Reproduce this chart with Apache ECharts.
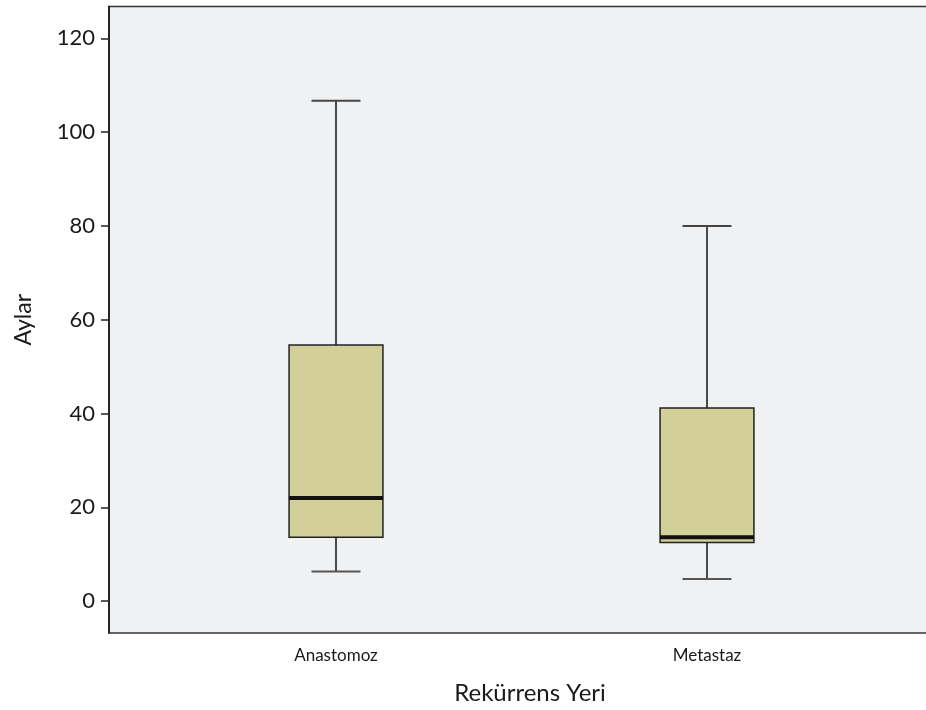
<!DOCTYPE html>
<html>
<head>
<meta charset="utf-8">
<script src="https://cdn.jsdelivr.net/npm/echarts@6/dist/echarts.min.js"></script>
<style>
  html, body { margin: 0; padding: 0; background: #fff; }
  #main { width: 926px; height: 710px; }
</style>
</head>
<body>
<div id="main"></div>
<script>
// data
const categories = ['Anastomoz', 'Metastaz'];
// [min, Q1, median, Q3, max]
const anastomoz = [6.3, 13.6, 22.0, 54.6, 106.7];
const metastaz = [4.7, 12.5, 13.6, 41.2, 80.0];
const yTicks = [0, 20, 40, 60, 80, 100, 120];
const yMin = -6.8;
const yMax = 126.8;

const boxes = [anastomoz, metastaz].map((b, i) => [i].concat(b));

const font = 'Lato';

let chart = echarts.init(document.getElementById('main'));

function renderBox(params, api) {
  const x = api.value(0);
  const pMin = api.coord([x, api.value(1)]);
  const pQ1 = api.coord([x, api.value(2)]);
  const pMed = api.coord([x, api.value(3)]);
  const pQ3 = api.coord([x, api.value(4)]);
  const pMax = api.coord([x, api.value(5)]);
  const band = api.size([1, 0])[0];
  const bw = band * 0.253;
  const cw = band * 0.132;
  const cx = pMed[0];
  return {
    type: 'group',
    children: [
      { type: 'line', shape: { x1: cx, y1: pMax[1], x2: cx, y2: pQ3[1] }, style: { stroke: '#111', lineWidth: 1.5 } },
      { type: 'line', shape: { x1: cx, y1: pQ1[1], x2: cx, y2: pMin[1] }, style: { stroke: '#111', lineWidth: 1.5 } },
      { type: 'line', shape: { x1: cx - cw / 2, y1: pMax[1], x2: cx + cw / 2, y2: pMax[1] }, style: { stroke: '#444', lineWidth: 2 } },
      { type: 'line', shape: { x1: cx - cw / 2, y1: pMin[1], x2: cx + cw / 2, y2: pMin[1] }, style: { stroke: '#555', lineWidth: 2 } },
      { type: 'rect', shape: { x: cx - bw / 2, y: pQ3[1], width: bw, height: pQ1[1] - pQ3[1] }, style: { fill: '#d3cf98', stroke: '#222', lineWidth: 1.5 } },
      { type: 'line', shape: { x1: cx - bw / 2, y1: pMed[1], x2: cx + bw / 2, y2: pMed[1] }, style: { stroke: '#111', lineWidth: 4 } }
    ]
  };
}

chart.setOption({
  animation: false,
  textStyle: { fontFamily: font },
  grid: [
    { left: 109, top: 6.5, bottom: 77, width: 842, outerBoundsMode: 'none', show: true, backgroundColor: '#f0f1f3', borderColor: '#333', borderWidth: 1.5 },
    { left: 150.5, top: 6.5, bottom: 77, width: 742, outerBoundsMode: 'none' }
  ],
  xAxis: [
    {
      gridIndex: 0, type: 'category', data: [''],
      axisLine: { show: false }, axisTick: { show: false }, axisLabel: { show: false },
      name: 'Rekürrens Yeri', nameLocation: 'middle', nameGap: 48,
      nameTextStyle: { fontSize: 24, color: '#1a1a1a', fontFamily: font }
    },
    {
      gridIndex: 1, type: 'category', data: categories,
      axisLine: { show: false },
      axisTick: { alignWithLabel: true, length: 12, lineStyle: { color: '#222', width: 1.5 } },
      axisLabel: { fontSize: 17, color: '#1a1a1a', margin: 14, fontFamily: font },
      splitLine: { show: false }
    }
  ],
  yAxis: [
    {
      gridIndex: 0, type: 'value', min: yMin, max: yMax,
      axisLine: { show: true, lineStyle: { color: '#111', width: 1.5 } },
      axisTick: { show: true, length: 8, customValues: yTicks, lineStyle: { color: '#222', width: 1.5 } },
      axisLabel: { customValues: yTicks, fontSize: 22, color: '#1a1a1a', margin: 14, fontFamily: font },
      splitLine: { show: false },
      name: 'Aylar', nameLocation: 'middle', nameGap: 74, nameRotate: 90,
      nameTextStyle: { fontSize: 23, color: '#1a1a1a', fontFamily: font }
    },
    {
      gridIndex: 1, type: 'value', min: yMin, max: yMax, show: false,
      splitLine: { show: false }
    }
  ],
  series: [
    {
      type: 'custom',
      xAxisIndex: 1,
      yAxisIndex: 1,
      renderItem: renderBox,
      encode: { x: 0, y: [1, 2, 3, 4, 5] },
      data: boxes
    }
  ]
});
</script>
</body>
</html>
